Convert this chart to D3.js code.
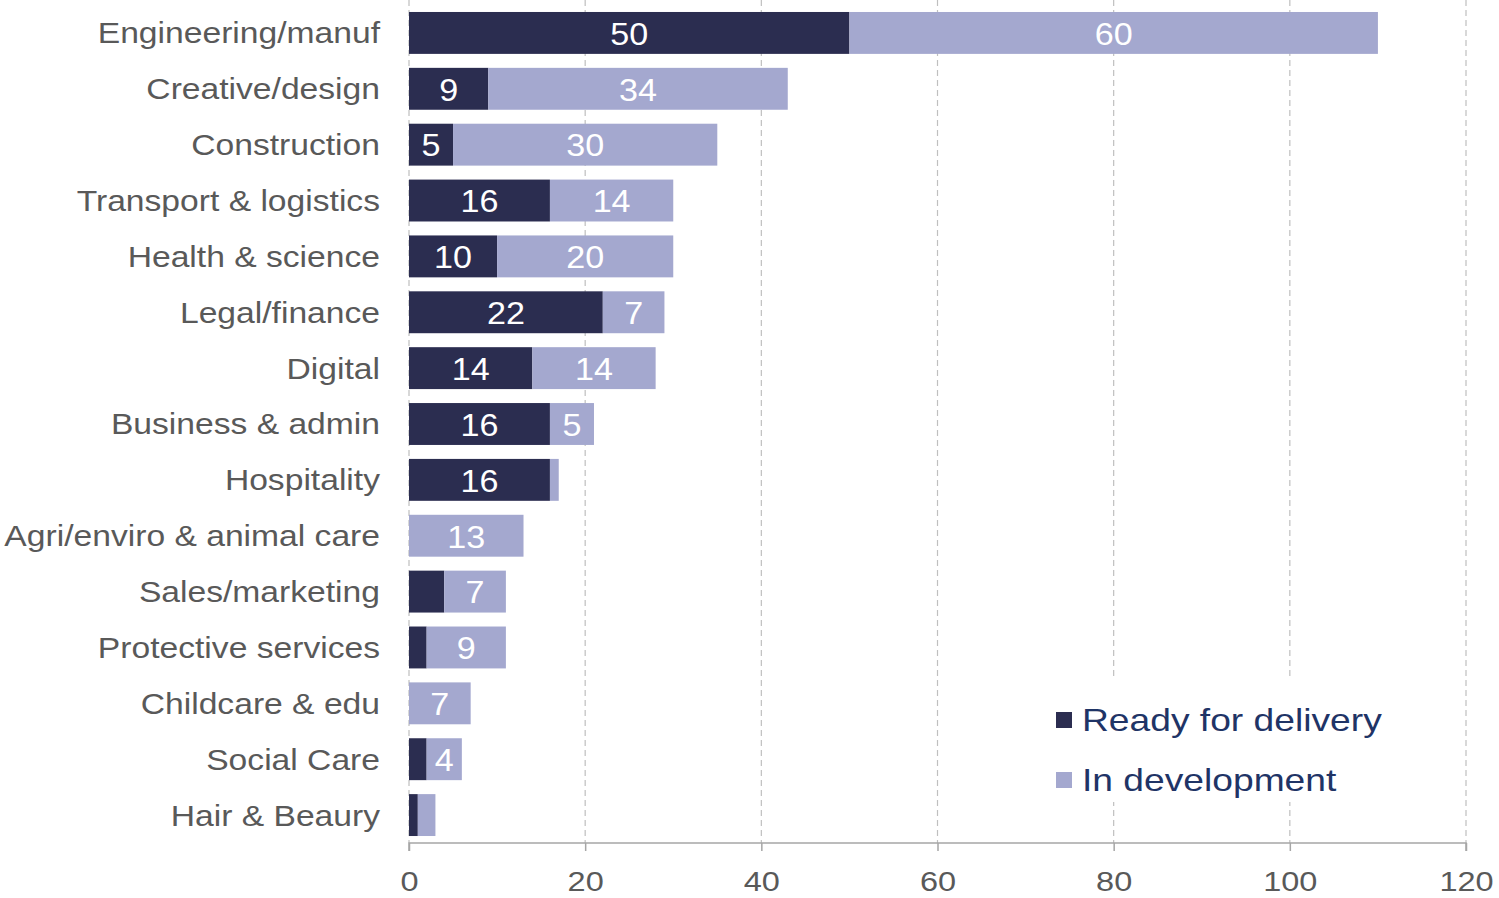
<!DOCTYPE html>
<html>
<head>
<meta charset="utf-8">
<script src="https://cdn.jsdelivr.net/npm/d3@7"></script>
<style>
  body { margin: 0; background: #fff; }
  text { font-family: "Liberation Sans", Arial, sans-serif; }
</style>
</head>
<body>
<svg width="1499" height="898"></svg>
<script>
const categories = [
  "Engineering/manuf", "Creative/design", "Construction", "Transport & logistics",
  "Health & science ", "Legal/finance", "Digital", "Business & admin", "Hospitality",
  "Agri/enviro & animal care", "Sales/marketing", "Protective services",
  "Childcare & edu", "Social Care", "Hair & Beaury"
];
const readyValues = [50, 9, 5, 16, 10, 22, 14, 16, 16, 0, 4, 2, 0, 2, 1];
const devValues = [60, 34, 30, 14, 20, 7, 14, 5, 1, 13, 7, 9, 7, 4, 2];
const xTicks = [0, 20, 40, 60, 80, 100, 120];
const seriesNames = ["Ready for delivery", "In development"];
// data labels that were removed in the original
const hiddenLabels = ["Sales/marketing|0"];

const svg = d3.select("svg");
const stretch = 1.16;
const darkColor = "#2b2d50";
const lightColor = "#a4a8cf";
const textGray = "#595959";

const xScale = d3.scaleLinear().domain([0, 120]).range([409, 1466]);
const yScale = d3.scaleBand().domain(categories).range([5, 843])
  .paddingInner(0.25).paddingOuter(0.125);

const rows = categories.map((c, i) => ({ cat: c, vals: [readyValues[i], devValues[i]] }));
const stack = d3.stack().keys([0, 1]).value((d, k) => d.vals[k]);
const stacked = stack(rows);

// gridlines
svg.append("g").selectAll("line").data(xTicks).enter().append("line")
  .attr("x1", d => xScale(d)).attr("x2", d => xScale(d))
  .attr("y1", 0).attr("y2", 843)
  .attr("stroke", "#bfbfbf").attr("stroke-width", 1.2)
  .attr("stroke-dasharray", "6,4");

// bars
const colors = [darkColor, lightColor];
const layers = svg.append("g").selectAll("g").data(stacked).enter().append("g")
  .attr("fill", (d, i) => colors[i]);
layers.selectAll("rect").data(d => d).enter().append("rect")
  .attr("x", d => xScale(d[0]))
  .attr("width", d => xScale(d[1]) - xScale(d[0]))
  .attr("y", d => yScale(d.data.cat))
  .attr("height", yScale.bandwidth());

// bar labels
stacked.forEach((layer, k) => {
  svg.append("g").selectAll("text")
    .data(layer.filter(d => d[1] - d[0] >= 4 && !hiddenLabels.includes(d.data.cat + "|" + k)))
    .enter().append("text")
    .attr("transform", d => `translate(${xScale((d[0] + d[1]) / 2)},${yScale(d.data.cat) + yScale.bandwidth() / 2}) scale(1.1,1)`)
    .attr("text-anchor", "middle")
    .attr("dy", "0.38em")
    .attr("fill", "#fff")
    .attr("font-size", 31)
    .text(d => d[1] - d[0]);
});

// category labels
svg.append("g").selectAll("text").data(categories).enter().append("text")
  .attr("transform", d => `translate(380,${yScale(d) + yScale.bandwidth() / 2}) scale(${stretch},1)`)
  .attr("text-anchor", "end")
  .attr("dy", "0.36em")
  .attr("fill", textGray)
  .attr("font-size", 29)
  .text(d => d);

// x axis
const xAxis = d3.axisBottom(xScale).tickValues(xTicks).tickSize(8).tickPadding(0);
const xAxisG = svg.append("g").attr("transform", "translate(0,843)").call(xAxis);
xAxisG.select(".domain").attr("stroke", "#a6a6a6").attr("stroke-width", 1.5)
  .attr("d", `M${xScale(0)},8V0H${xScale(120)}V8`);
xAxisG.selectAll(".tick line").attr("stroke", "#a6a6a6").attr("stroke-width", 1.5);
xAxisG.selectAll(".tick text")
  .attr("fill", textGray)
  .attr("font-size", 28)
  .attr("font-family", "Liberation Sans, Arial, sans-serif")
  .attr("y", 0)
  .attr("dy", "0.36em")
  .attr("transform", `translate(0,38) scale(${stretch},1)`);

// legend
const legend = svg.append("g");
legend.append("rect").attr("x", 1040).attr("y", 680).attr("width", 360).attr("height", 122)
  .attr("fill", "#fff");
const legendItems = legend.selectAll("g").data(seriesNames).enter().append("g")
  .attr("transform", (d, i) => `translate(1056,${720 + i * 60})`);
legendItems.append("rect").attr("x", 0).attr("y", -8).attr("width", 16).attr("height", 16)
  .attr("fill", (d, i) => colors[i]);
legendItems.append("text")
  .attr("transform", `translate(26,0) scale(1.2,1)`)
  .attr("dy", "0.36em")
  .attr("fill", "#1f3466")
  .attr("font-size", 31)
  .text(d => d);
</script>
</body>
</html>
